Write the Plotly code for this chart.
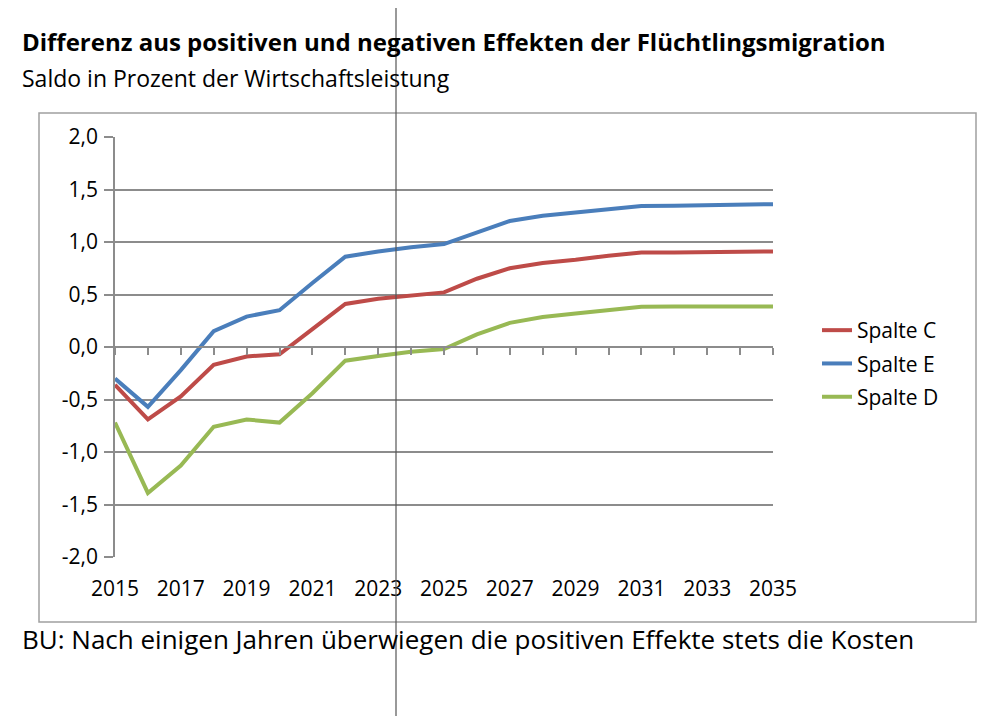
import plotly.graph_objects as go

years = list(range(2015, 2036))
spalte_c = [-0.36, -0.69, -0.47, -0.17, -0.09, -0.07, 0.17, 0.41, 0.46, 0.49, 0.52,
            0.65, 0.75, 0.80, 0.83, 0.87, 0.90, 0.90, 0.905, 0.905, 0.91]
spalte_e = [-0.30, -0.57, -0.22, 0.15, 0.29, 0.35, 0.61, 0.86, 0.91, 0.95, 0.98,
            1.09, 1.20, 1.25, 1.28, 1.315, 1.343, 1.346, 1.35, 1.355, 1.36]
spalte_d = [-0.72, -1.39, -1.13, -0.76, -0.69, -0.72, -0.44, -0.13, -0.085, -0.045, -0.02,
            0.12, 0.23, 0.285, 0.32, 0.35, 0.383, 0.385, 0.385, 0.385, 0.385]
series_names = ["Spalte C", "Spalte E", "Spalte D"]
colors = ["#BE4B48", "#4A7EBB", "#98B954"]
y_ticks = [-2.0, -1.5, -1.0, -0.5, 0.0, 0.5, 1.0, 1.5, 2.0]
y_tick_labels = ["-2,0", "-1,5", "-1,0", "-0,5", "0,0", "0,5", "1,0", "1,5", "2,0"]
x_ticks = years[::2]
x_tick_labels = [str(y) for y in x_ticks]

title = "Differenz aus positiven und negativen Effekten der Flüchtlingsmigration"
subtitle = "Saldo in Prozent der Wirtschaftsleistung"
caption = "BU: Nach einigen Jahren überwiegen die positiven Effekte stets die Kosten"

OFF = 8  # browser body margin
W, H = 1000 - OFF, 716 - OFF
# plot area in page pixels
PL, PR, PT, PB = 115, 773, 137, 557
L, R, T, B = PL - OFF, PR - OFF, PT - OFF, PB - OFF
FONT = "Open Sans"

def px_x(p):  # page pixel -> paper
    return (p - OFF - L) / (R - L)

def px_y(p):
    return (B - (p - OFF)) / (B - T)

fig = go.Figure()
for name, vals, c in zip(series_names, [spalte_c, spalte_e, spalte_d], colors):
    fig.add_trace(go.Scatter(x=years, y=vals, mode="lines", name=name, legendgroup=name,
                             line=dict(color=c, width=4)))
# helper trace for the zero-line axis with ticks
fig.add_trace(go.Scatter(x=years, y=spalte_c, xaxis="x2", mode="lines",
                         line=dict(color="rgba(0,0,0,0)", width=0),
                         showlegend=False, hoverinfo="skip"))

grid = "#8C8C8C"
fig.update_layout(
    width=W, height=H, autosize=False,
    margin=dict(l=L, r=W - R, t=T, b=H - B, pad=0),
    paper_bgcolor="white", plot_bgcolor="white",
    font=dict(family=FONT, color="black", size=21),
    xaxis=dict(range=[2015, 2035], tickmode="array", tickvals=x_ticks,
               ticktext=x_tick_labels, showgrid=False, zeroline=False,
               showline=False, ticks="", ticklabelstandoff=17,
               tickfont=dict(size=21, family=FONT)),
    xaxis2=dict(range=[2015, 2035], overlaying="x", anchor="free", position=0.5,
                dtick=1, tick0=2015, ticks="outside", ticklen=7, tickcolor=grid, tickwidth=1.5,
                showticklabels=False, showline=True, linecolor=grid, linewidth=1.5,
                showgrid=False, zeroline=False),
    yaxis=dict(range=[-2, 2], tickmode="array", tickvals=y_ticks, ticktext=y_tick_labels,
               showgrid=True, gridcolor=grid, gridwidth=1.5, zeroline=False, showline=True,
               linecolor=grid, linewidth=1.5, ticks="outside", ticklen=9,
               tickcolor=grid, tickwidth=1.5, ticklabelstandoff=2,
               tickfont=dict(size=21, family=FONT)),
    legend=dict(x=px_x(817), y=px_y(310), xanchor="left", yanchor="top",
                font=dict(size=21, family=FONT), bgcolor="rgba(0,0,0,0)",
                tracegroupgap=3, itemwidth=30),
    showlegend=True,
)

fig.add_annotation(text="<b>" + title + "</b>", xref="paper", yref="paper",
                   x=px_x(20), y=px_y(42), xanchor="left", yanchor="middle",
                   showarrow=False, font=dict(size=24, family=FONT, color="black"))
fig.add_annotation(text=subtitle, xref="paper", yref="paper",
                   x=px_x(20), y=px_y(78), xanchor="left", yanchor="middle",
                   showarrow=False, font=dict(size=23, family=FONT, color="black"))
fig.add_annotation(text=caption, xref="paper", yref="paper",
                   x=px_x(20), y=px_y(639), xanchor="left", yanchor="middle",
                   showarrow=False, font=dict(size=26, family=FONT, color="black"))

# outer chart frame
fig.add_shape(type="rect", xref="paper", yref="paper",
              x0=px_x(39), x1=px_x(976), y0=px_y(622), y1=px_y(113),
              line=dict(color="#A0A0A0", width=1.5), fillcolor="rgba(0,0,0,0)", layer="below")
# vertical separator line across the image
fig.add_shape(type="line", xref="paper", yref="paper",
              x0=px_x(396), x1=px_x(396), y0=px_y(0), y1=px_y(716),
              line=dict(color="#555555", width=1.2))

fig.write_html("out.html")
